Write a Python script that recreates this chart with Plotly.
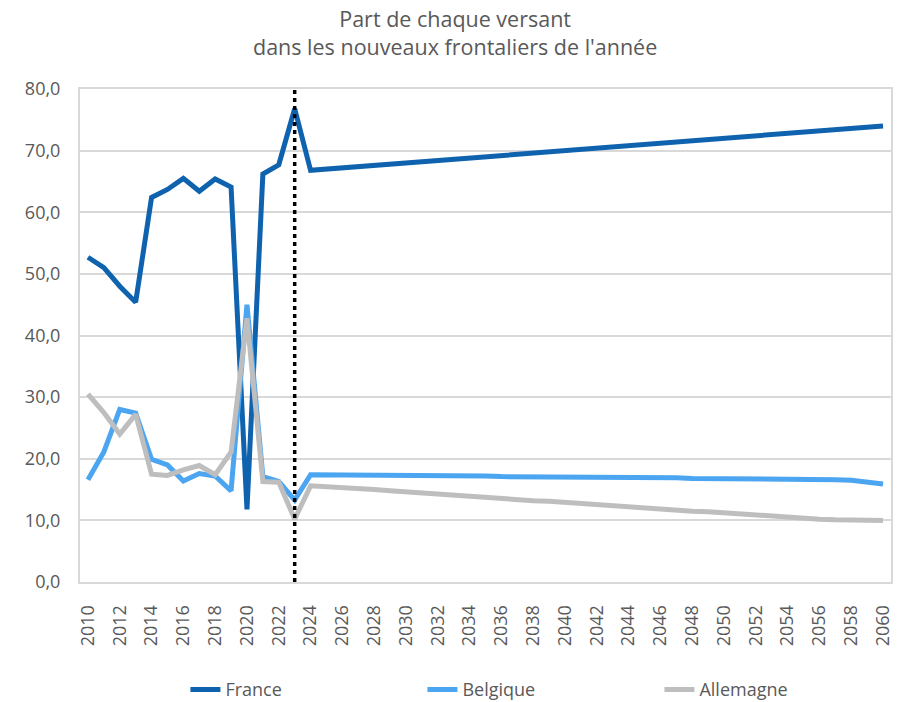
import plotly.graph_objects as go

years = list(range(2010, 2061))

france = [52.7, 51.0, 48.0, 45.4, 62.4, 63.7, 65.5, 63.4, 65.4, 64.1,
          11.8, 66.2, 67.7, 76.8, 66.8, 67.0, 67.2, 67.4, 67.6, 67.8,
          68.0, 68.2, 68.4, 68.6, 68.8, 69.0, 69.2, 69.4, 69.6, 69.8,
          70.0, 70.2, 70.4, 70.6, 70.8, 71.0, 71.2, 71.4, 71.6, 71.8,
          72.0, 72.2, 72.4, 72.6, 72.8, 73.0, 73.2, 73.4, 73.6, 73.8, 74.0]

belgique = [16.6, 21.1, 28.0, 27.4, 19.9, 19.0, 16.4, 17.6, 17.2, 14.8,
            45.0, 17.1, 16.3, 13.3, 17.4, 17.4, 17.4, 17.4, 17.3, 17.3,
            17.3, 17.3, 17.2, 17.2, 17.2, 17.2, 17.1, 17.1, 17.1, 17.1,
            17.0, 17.0, 17.0, 17.0, 16.9, 16.9, 16.9, 16.9, 16.8, 16.8,
            16.8, 16.8, 16.7, 16.7, 16.7, 16.6, 16.6, 16.6, 16.5, 16.3, 15.9]

allemagne = [30.5, 27.5, 24.0, 27.2, 17.5, 17.3, 18.2, 18.9, 17.4, 21.1,
             42.8, 16.3, 16.2, 10.2, 15.6, 15.5, 15.3, 15.1, 15.0, 14.8,
             14.6, 14.4, 14.3, 14.1, 13.9, 13.7, 13.6, 13.4, 13.2, 13.1,
             12.9, 12.7, 12.5, 12.4, 12.2, 12.0, 11.9, 11.7, 11.5, 11.4,
             11.2, 11.0, 10.9, 10.7, 10.5, 10.4, 10.2, 10.1, 10.0, 10.0, 10.0]

series_names = ["France", "Belgique", "Allemagne"]
series_colors = ["#0F62AE", "#4BA5F0", "#BEBEBE"]
projection_start = 2023
tick_years = list(range(2010, 2061, 2))
y_ticks = [0, 10, 20, 30, 40, 50, 60, 70, 80]
title_text = "Part de chaque versant<br>dans les nouveaux frontaliers de l'année"

fig = go.Figure()
for name, vals, col in zip(series_names, [france, belgique, allemagne], series_colors):
    fig.add_trace(go.Scatter(x=years, y=vals, name=name, mode="lines",
                             line=dict(color=col, width=5)))

fig.add_shape(type="line", xref="x", yref="paper", x0=projection_start, x1=projection_start,
              y0=0, y1=1, line=dict(color="black", width=3.5, dash="4px,4px"))

fig.add_annotation(text=title_text, xref="paper", yref="paper", x=0.463, y=1.115,
                   xanchor="center", yanchor="middle", showarrow=False, align="center",
                   borderpad=0,
                   font=dict(family="Open Sans", size=21.5, color="#595959"))

fig.update_layout(
    width=904, height=694,
    margin=dict(l=72, r=21, t=81, b=120, autoexpand=False),
    plot_bgcolor="white", paper_bgcolor="white",
    separators=", ",
    font=dict(family="Open Sans", color="#595959", size=18),
    legend=dict(orientation="h", x=0.13, xanchor="left", y=-0.256, yanchor="bottom",
                entrywidth=192, font=dict(size=18, color="#595959")),
    showlegend=True,
)
fig.update_xaxes(range=[2009.5, 2060.5], tickmode="array", tickvals=tick_years,
                 ticktext=[str(t) for t in tick_years], tickangle=-90,
                 showgrid=False, showline=True, linecolor="#D9D9D9", linewidth=2, mirror=True,
                 ticks="", zeroline=False, automargin=False, ticklabelstandoff=14,
                 tickfont=dict(size=18, color="#595959"))
fig.update_yaxes(range=[0, 80], tickmode="array", tickvals=y_ticks, tickformat=".1f",
                 showgrid=True, gridcolor="#D9D9D9", gridwidth=2,
                 showline=True, linecolor="#D9D9D9", linewidth=2, mirror=True,
                 zeroline=False, ticks="", ticklabelstandoff=14, automargin=False,
                 tickfont=dict(size=18, color="#595959"))

fig.write_html("out.html")
